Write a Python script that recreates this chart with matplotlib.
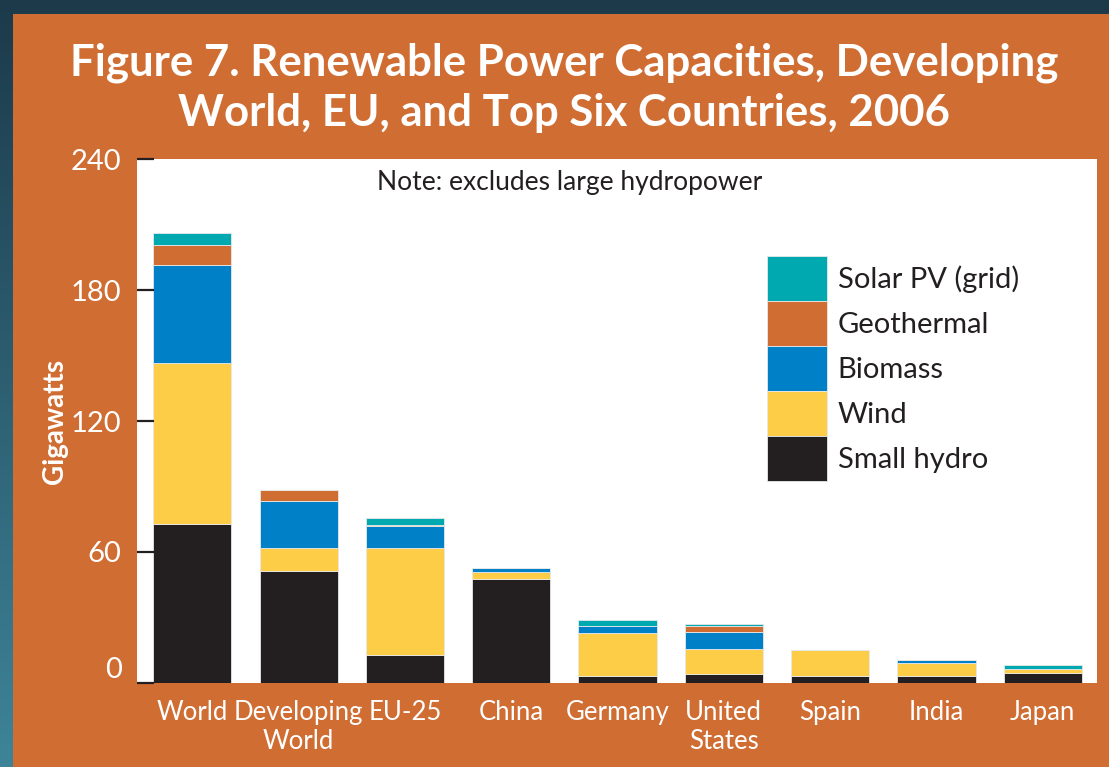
import numpy as np
import matplotlib
matplotlib.use("Agg")
import matplotlib.pyplot as plt
from matplotlib.colors import LinearSegmentedColormap
from matplotlib.patches import Rectangle

# values, in GW
categories = ['World', 'Developing\nWorld', 'EU-25', 'China', 'Germany',
              'United\nStates', 'Spain', 'India', 'Japan']
small_hydro = [73, 51.4, 12.8, 47.8, 3.1, 4.0, 3.1, 3.1, 4.7]
wind = [73.5, 10.3, 48.9, 2.9, 19.9, 11.7, 11.9, 6.1, 1.5]
biomass = [45, 21.8, 10.2, 1.8, 3.1, 7.5, 0, 1.2, 0]
geothermal = [9, 4.8, 0.4, 0, 0, 2.9, 0, 0, 0]
solar_pv = [5.6, 0, 3.3, 0, 2.6, 0.8, 0, 0, 2.1]

series = [
    ('Small hydro', small_hydro, '#231f20'),
    ('Wind', wind, '#fdcd47'),
    ('Biomass', biomass, '#0080c6'),
    ('Geothermal', geothermal, '#d06d33'),
    ('Solar PV (grid)', solar_pv, '#00a9b0'),
]
yticks = [0, 60, 120, 180, 240]

orange = '#d06d33'
font = 'Lato'

W, H = 1109, 767
fig = plt.figure(figsize=(W / 100, H / 100), dpi=100)

# dark teal backdrop with a vertical gradient
bg = fig.add_axes([0, 0, 1, 1], zorder=-3)
grad = LinearSegmentedColormap.from_list('bg', ['#1c3a4a', '#3e8499'])
bg.imshow(np.linspace(0, 1, 256).reshape(-1, 1), aspect='auto', cmap=grad,
          extent=[0, 1, 0, 1], origin='upper')
bg.axis('off')

fig.add_artist(Rectangle((13 / W, 0), 1, 1 - 14 / H, transform=fig.transFigure,
                         facecolor=orange, edgecolor='none', zorder=-2))

fig.text(0.509, 0.886,
         'Figure 7. Renewable Power Capacities, Developing\nWorld, EU, and Top Six Countries, 2006',
         ha='center', va='center', color='white', fontsize=31.5, fontweight='bold',
         family=font, linespacing=1.3)

ax = fig.add_axes([137 / W, 1 - 683 / H, (1097 - 137) / W, (683 - 159) / H])
ax.set_facecolor('white')

x = np.arange(len(categories))
bottom = np.zeros(len(categories))
handles = []
for name, vals, col in series:
    vals = np.array(vals, dtype=float)
    b = ax.bar(x, vals, 0.735, bottom=bottom, color=col, edgecolor='#e8e8e8',
               linewidth=0.6, label=name)
    handles.append(b)
    bottom += vals

ax.set_xlim(-0.52, 8.51)
ax.set_ylim(0, 240)
ax.set_yticks(yticks)
ax.set_yticklabels([str(t) for t in yticks])
ax.set_xticks(x)
ax.set_xticklabels(categories, linespacing=1.2)
for s in ax.spines.values():
    s.set_visible(False)

ax.tick_params(axis='y', direction='in', length=12, width=1.6, color='#231f20',
               pad=11, labelcolor='white', labelsize=21)
ax.tick_params(axis='x', length=0, pad=12, labelcolor='white', labelsize=18.5)
for lab in ax.get_xticklabels() + ax.get_yticklabels():
    lab.set_family(font)
ax.get_yticklabels()[0].set_va('bottom')

ax.set_ylabel('Gigawatts', color='white', fontsize=20, fontweight='bold', family=font)
ax.yaxis.set_label_coords(-0.072, 0.5)

ax.text(0.451, 0.955, 'Note: excludes large hydropower', transform=ax.transAxes,
        ha='center', va='center', fontsize=19, color='#231f20', family=font)

leg = ax.legend(handles[::-1], [s[0] for s in series][::-1], loc='upper left',
                bbox_to_anchor=(0.656, 0.815), frameon=False, borderpad=0,
                borderaxespad=0, labelspacing=0, handlelength=2.05,
                handleheight=2.0, handletextpad=0.38, fontsize=21)
for t in leg.get_texts():
    t.set_family(font)
    t.set_color('#231f20')

fig.savefig('out.png', dpi=100)
